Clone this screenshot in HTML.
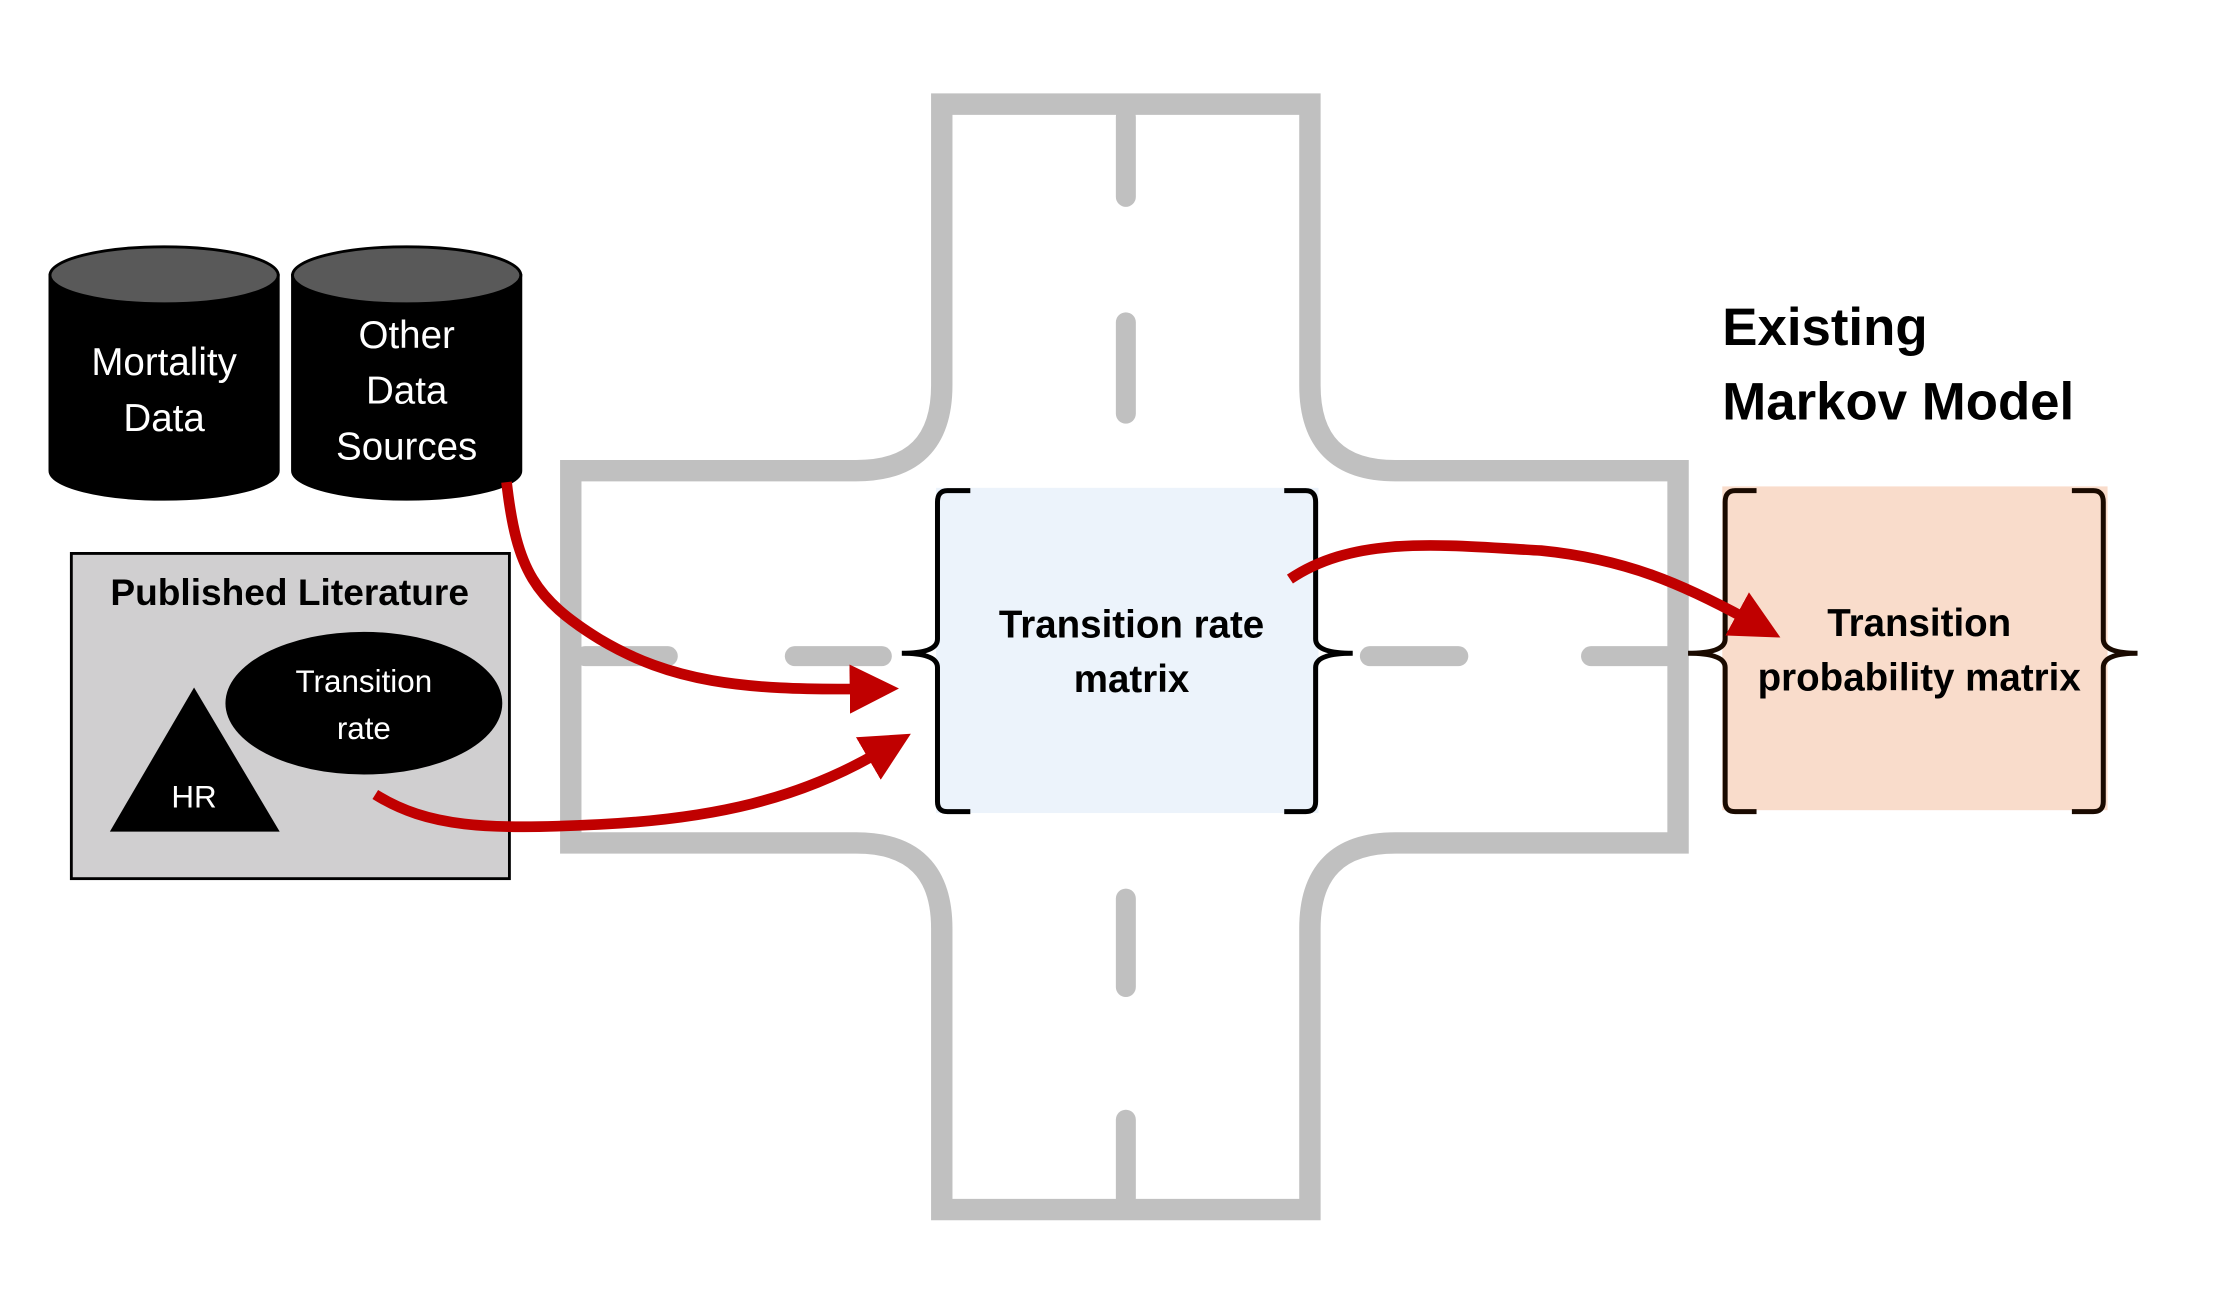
<!DOCTYPE html>
<html><head><meta charset="utf-8"><style>
html,body{margin:0;padding:0;background:#fff;}
svg{display:block;}
text{font-family:"Liberation Sans",sans-serif;}
</style></head><body>
<svg width="2226" height="1298" viewBox="0 0 1560 910" preserveAspectRatio="none" xmlns="http://www.w3.org/2000/svg">
<defs>
<marker id="ah" markerWidth="4.6" markerHeight="4.6" refX="1" refY="2.3" orient="auto" markerUnits="strokeWidth">
<path d="M0,0 L4.6,2.3 L0,4.6 Z" fill="#c00000"/>
</marker>
</defs>
<rect width="1560" height="910" fill="#fff"/>
<path d="M660,73 H918 V270 Q918,330 978,330 H1176 V591 H978 Q918,591 918,651 V848 H660 V651 Q660,591 600,591 H400 V330 H600 Q660,330 660,270 Z" fill="#fff" stroke="#c0c0c0" stroke-width="15"/>
<g stroke="#c0c0c0" stroke-width="14" stroke-linecap="round">
<line x1="789" y1="82" x2="789" y2="138"/>
<line x1="789" y1="226" x2="789" y2="290"/>
<line x1="789" y1="630" x2="789" y2="692"/>
<line x1="789" y1="785" x2="789" y2="840"/>
<line x1="410" y1="460" x2="468" y2="460"/>
<line x1="557" y1="460" x2="618" y2="460"/>
<line x1="960" y1="460" x2="1022" y2="460"/>
<line x1="1115" y1="460" x2="1176" y2="460"/>
</g>
<g stroke="#000" stroke-width="2">
<path d="M35,193 V330 A80,20 0 0 0 195,330 V193 Z" fill="#000"/>
<ellipse cx="115" cy="193" rx="80" ry="20" fill="#595959"/>
<path d="M205,193 V330 A80,20 0 0 0 365,330 V193 Z" fill="#000"/>
<ellipse cx="285" cy="193" rx="80" ry="20" fill="#595959"/>
</g>
<g fill="#fff" font-size="27" text-anchor="middle">
<text x="115" y="263">Mortality</text>
<text x="115" y="302">Data</text>
<text x="285" y="244">Other</text>
<text x="285" y="283">Data</text>
<text x="285" y="322">Sources</text>
</g>
<rect x="50" y="388" width="307" height="228" fill="#d0cfd0" stroke="#000" stroke-width="2"/>
<text x="203" y="424" font-size="26" font-weight="bold" text-anchor="middle">Published Literature</text>
<ellipse cx="255" cy="493" rx="97" ry="50" fill="#000"/>
<text x="255" y="485" font-size="22" fill="#fff" text-anchor="middle">Transition</text>
<text x="255" y="518" font-size="22" fill="#fff" text-anchor="middle">rate</text>
<polygon points="136,482 77,583 196,583" fill="#000"/>
<text x="136" y="566" font-size="22" fill="#fff" text-anchor="middle">HR</text>
<rect x="656" y="342" width="268" height="228" fill="#ecf3fb"/>
<g fill="none" stroke="#000" stroke-width="3.5">
<path d="M680,344 H664 Q657,344 657,352 V448 Q657,458 632,458 Q657,458 657,468 V562 Q657,569 664,569 H680"/>
<path d="M900,344 H915 Q922,344 922,352 V448 Q922,458 948,458 Q922,458 922,468 V562 Q922,569 915,569 H900"/>
</g>
<text x="793" y="447" font-size="27" font-weight="bold" text-anchor="middle">Transition rate</text>
<text x="793" y="485" font-size="27" font-weight="bold" text-anchor="middle">matrix</text>
<rect x="1207" y="341" width="270" height="227" fill="#f9dccb"/>
<g fill="none" stroke="#1a0a00" stroke-width="3.5">
<path d="M1231,344 H1216 Q1209,344 1209,352 V448 Q1209,458 1183,458 Q1209,458 1209,468 V562 Q1209,569 1216,569 H1231"/>
<path d="M1452,344 H1467 Q1474,344 1474,352 V448 Q1474,458 1498,458 Q1474,458 1474,468 V562 Q1474,569 1467,569 H1452"/>
</g>
<text x="1345" y="446" font-size="27" font-weight="bold" text-anchor="middle">Transition</text>
<text x="1345" y="484" font-size="27" font-weight="bold" text-anchor="middle">probability matrix</text>
<text x="1207" y="242" font-size="37" font-weight="bold">Existing</text>
<text x="1207" y="294" font-size="37" font-weight="bold">Markov Model</text>
<g fill="none" stroke="#c00000" stroke-width="7.5" stroke-linecap="butt">
<path d="M355,338 C362,400 375,420 420,448 C470,478 520,484 603,483" marker-end="url(#ah)"/>
<path d="M263,557 C300,580 340,582 420,578 C500,574 560,560 615,528" marker-end="url(#ah)"/>
<path d="M904,406 C950,375 1010,382 1080,386 C1140,392 1180,410 1224,434" marker-end="url(#ah)"/>
</g>
</svg>
</body></html>
